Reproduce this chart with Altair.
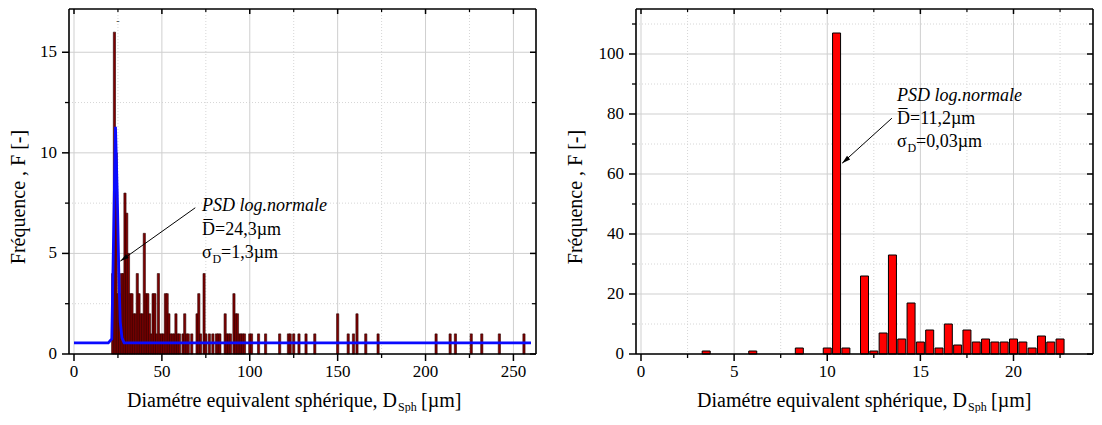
import altair as alt
import pandas as pd

# ---------------- data ----------------
# left panel histogram (bin start in µm, count)
L_D = [22, 23, 24, 25, 26, 27, 28, 29, 30, 31, 32, 33, 34, 35, 36, 37, 38, 39, 40, 41,
       42, 43, 44, 45, 46, 47, 48, 49, 50, 51, 52, 53, 54, 55, 56, 57, 58, 59, 60, 62,
       63, 64, 65, 67, 70, 71, 72, 74, 75, 77, 79, 81, 82, 83, 86, 87, 88, 89, 91, 92,
       93, 94, 95, 96, 97, 100, 101, 105, 109, 117, 122, 123, 125, 128, 132, 137, 150,
       156, 159, 161, 166, 173, 206, 214, 217, 226, 232, 242, 256]
L_F = [4, 16, 10, 3, 3, 4, 4, 8, 7, 5, 3, 3, 2, 2, 4, 3, 2, 2, 6, 3,
       3, 2, 1, 3, 3, 1, 4, 1, 1, 1, 3, 3, 2, 1, 1, 1, 2, 1, 1, 1,
       2, 1, 1, 1, 2, 3, 1, 4, 1, 1, 1, 1, 1, 1, 2, 1, 1, 1, 3, 2,
       2, 1, 1, 1, 1, 1, 1, 1, 1, 1, 1, 1, 1, 1, 1, 1, 2,
       1, 1, 2, 1, 1, 1, 1, 1, 1, 1, 1, 1]
# log-normal PSD curve (left)
C_D = [0, 19.5, 21.5, 23.6, 24.6, 25.5, 26.3, 27.3, 28.5, 260]
C_F = [0.55, 0.55, 0.75, 11.3, 8.0, 4.0, 1.6, 0.8, 0.56, 0.55]

# right panel histogram
R_D = [3.5, 6, 8.5, 10, 10.5, 11, 12, 12.5, 13, 13.5, 14, 14.5, 15, 15.5, 16, 16.5,
       17, 17.5, 18, 18.5, 19, 19.5, 20, 20.5, 21, 21.5, 22, 22.5]
R_F = [1, 1, 2, 2, 107, 2, 26, 1, 7, 33, 5, 17, 4, 8, 2, 10,
       3, 8, 4, 5, 4, 4, 5, 4, 2, 6, 4, 5]

# tick values
L_XMAJ = [0, 50, 100, 150, 200, 250]
L_XMIN = [25, 75, 125, 175, 225]
L_YMAJ = [0, 5, 10, 15]
L_YMIN = [2.5, 7.5, 12.5]
R_XMAJ = [0, 5, 10, 15, 20]
R_XMIN = [2.5, 7.5, 12.5, 17.5, 22.5]
R_YMAJ = [0, 20, 40, 60, 80, 100]
R_YMIN = [10, 30, 50, 70, 90, 110]

Y_TITLE = "Fréquence , F [-]"
X_TITLE = "Diamétre equivalent sphérique, D"
X_SUB = "Sph"
X_UNIT = "[µm]"

FONT = "Liberation Serif"
one = pd.DataFrame({"k": [0]})


def rules_v(vals, xs, y0, y1, **kw):
    return alt.Chart(pd.DataFrame({"v": vals})).mark_rule(**kw).encode(
        x=alt.X("v:Q", scale=xs, axis=None), y=alt.value(y0), y2=alt.value(y1))


def rules_h(vals, ys, x0, x1, **kw):
    return alt.Chart(pd.DataFrame({"v": vals})).mark_rule(**kw).encode(
        y=alt.Y("v:Q", scale=ys, axis=None), x=alt.value(x0), x2=alt.value(x1))


def labels_x(vals, xs, y):
    return alt.Chart(pd.DataFrame({"v": vals})).mark_text(
        font=FONT, fontSize=17, color="black", align="center", baseline="top").encode(
        x=alt.X("v:Q", scale=xs, axis=None), y=alt.value(y), text=alt.Text("v:Q", format="~g"))


def labels_y(vals, ys, x):
    return alt.Chart(pd.DataFrame({"v": vals})).mark_text(
        font=FONT, fontSize=17, color="black", align="right", baseline="middle").encode(
        y=alt.Y("v:Q", scale=ys, axis=None), x=alt.value(x), text=alt.Text("v:Q", format="~g"))


def txt(s, x, y, size=18, italic=False, align="left", angle=0, baseline="alphabetic"):
    kw = dict(font=FONT, fontSize=size, align=align, baseline=baseline, color="black")
    if italic:
        kw["fontStyle"] = "italic"
    if angle:
        kw["angle"] = angle
    return alt.Chart(one).mark_text(**kw).encode(
        x=alt.value(x), y=alt.value(y), text=alt.value(s))


def edge(x0, x1, y0, y1):
    return alt.Chart(one).mark_rule(color="black", strokeWidth=1.6).encode(
        x=alt.value(x0), x2=alt.value(x1), y=alt.value(y0), y2=alt.value(y1))


def arrow(xs, ys, x0, y0, x1, y1, ang):
    line = alt.Chart(one).mark_rule(color="black", strokeWidth=1).encode(
        x=alt.X(datum=x0, scale=xs, axis=None), y=alt.Y(datum=y0, scale=ys, axis=None),
        x2=alt.datum(x1), y2=alt.datum(y1))
    head = alt.Chart(one).mark_point(
        shape="M0,0L-0.5,1.8L0.5,1.8Z", filled=True, size=90, color="black",
        opacity=1, angle=ang).encode(
        x=alt.X(datum=x1, scale=xs, axis=None), y=alt.Y(datum=y1, scale=ys, axis=None))
    return [line, head]


def panel(W, H, xs, ys, xmaj, xmin, ymaj, ymin, marks, ytx, xstart):
    grid = [
        rules_v(xmin, xs, 0, H, color="#d6d6d6", strokeWidth=1, strokeDash=[1, 2]),
        rules_h(ymin, ys, 0, W, color="#d6d6d6", strokeWidth=1, strokeDash=[1, 2]),
        rules_v(xmaj, xs, 0, H, color="#cfcfcf", strokeWidth=1),
        rules_h(ymaj, ys, 0, W, color="#cfcfcf", strokeWidth=1),
    ]
    ticks = [
        rules_v(xmaj, xs, H, H + 7, color="black", strokeWidth=1.5),
        rules_v(xmin, xs, H, H + 4, color="black", strokeWidth=1.3),
        rules_h(ymaj, ys, 0, -7, color="black", strokeWidth=1.5),
        rules_h(ymin, ys, 0, -4, color="black", strokeWidth=1.3),
        rules_v(xmaj, xs, 0, 5, color="black", strokeWidth=1.5),
        rules_v(xmin, xs, 0, 3, color="black", strokeWidth=1.2),
        rules_h(ymaj, ys, W, W - 6, color="black", strokeWidth=1.5),
        rules_h(ymin, ys, W, W - 4, color="black", strokeWidth=1.2),
    ]
    frame = [edge(0, W, 0, 0), edge(0, W, H, H), edge(0, 0, 0, H), edge(W, W, 0, H)]
    labels = [labels_x(xmaj, xs, H + 10), labels_y(ymaj, ys, -12)]
    titles = [
        txt(Y_TITLE, ytx, 188, size=20, align="center", angle=270, baseline="middle"),
        txt(X_TITLE, xstart, 398, size=20, align="right"),
        txt(X_SUB, xstart + 1, 402, size=12),
        txt(X_UNIT, xstart + 24, 398, size=20),
    ]
    return alt.layer(*grid, *marks, *ticks, *frame, *labels, *titles).properties(
        width=W, height=H)


H = 345

# ---------------- left panel ----------------
WL = 467
xsL = alt.Scale(domain=[0, 260], nice=False, zero=False)
ysL = alt.Scale(domain=[0, 17.15], nice=False)
barsL = alt.Chart(pd.DataFrame({"D": L_D, "F": L_F})).mark_bar(
    size=2.2, color="#800000", stroke="#2a0000", strokeWidth=0.6).encode(
    x=alt.X("D:Q", scale=xsL, axis=None),
    y=alt.Y("F:Q", scale=ysL, axis=None))
curve = alt.Chart(pd.DataFrame({"D": C_D, "F": C_F})).mark_line(
    color="#0a0aff", strokeWidth=2.8).encode(
    x=alt.X("D:Q", scale=xsL, axis=None), y=alt.Y("F:Q", scale=ysL, axis=None))
dash = alt.Chart(one).mark_text(text="-", font=FONT, fontSize=10, color="#444").encode(
    x=alt.X(datum=25, scale=xsL, axis=None), y=alt.Y(datum=16.55, scale=ysL, axis=None))
marksL = [barsL, curve, dash] + arrow(xsL, ysL, 69, 7.27, 26.4, 4.62, 235) + [
    txt("PSD log.normale", 133, 202, italic=True),
    txt("D\u0305=24,3µm", 133, 226),
    txt("σ", 133, 249),
    txt("D", 143.5, 254, size=12),
    txt("=1,3µm", 152, 249),
]
left = panel(WL, H, xsL, ysL, L_XMAJ, L_XMIN, L_YMAJ, L_YMIN, marksL, -50, 328)

# ---------------- right panel ----------------
WR = 457
xsR = alt.Scale(domain=[0, 24], nice=False, zero=False)
ysR = alt.Scale(domain=[0, 115], nice=False)
barsR = alt.Chart(pd.DataFrame({"D": R_D, "F": R_F})).mark_bar(
    size=8, color="#ff0000", stroke="black", strokeWidth=1).encode(
    x=alt.X("D:Q", scale=xsR, axis=None),
    y=alt.Y("F:Q", scale=ysR, axis=None))
marksR = [barsR] + arrow(xsR, ysR, 13.47, 78.6, 10.8, 63.6, 229) + [
    txt("PSD log.normale", 261, 92, italic=True),
    txt("D\u0305=11,2µm", 261, 115),
    txt("σ", 261, 138),
    txt("D", 271.5, 143, size=12),
    txt("=0,03µm", 280, 138),
]
right = panel(WR, H, xsR, ysR, R_XMAJ, R_XMIN, R_YMAJ, R_YMIN, marksR, -60, 331)

chart = alt.hconcat(left, right, spacing=29).properties(
    padding={"left": 1, "top": 0, "right": 0, "bottom": 0}, background="white"
).configure_view(stroke=None)

chart.save("out.html", embed_options={"renderer": "svg", "actions": False})
